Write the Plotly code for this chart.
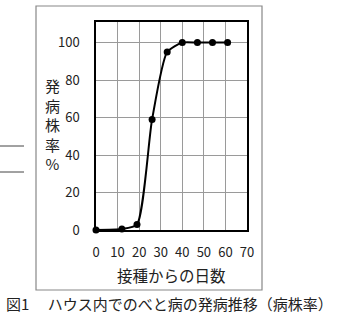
import plotly.graph_objects as go

days = [0, 12, 19, 26, 33, 40, 47, 54, 61]
rate = [0, 0.5, 3, 59, 95, 100, 100, 100, 100]
x_ticks = [0, 10, 20, 30, 40, 50, 60, 70]
y_ticks = [0, 20, 40, 60, 80, 100]
y_title_chars = ["発", "病", "株", "率", "%"]
x_title = "接種からの日数"
caption = "図1　 ハウス内でのべと病の発病推移（病株率）"

FONT = "Noto Sans CJK JP"
W, H = 344, 316
ML, MR, MT, MB = 96, 97, 22, 86
pw, ph = W - ML - MR, H - MT - MB


def px(xp):
    return (xp - ML) / pw


def py(yp):
    return (H - MB - yp) / ph


fig = go.Figure()
fig.add_trace(go.Scatter(
    x=days, y=rate, mode="lines+markers",
    line=dict(color="black", width=2, shape="spline", smoothing=0.6),
    marker=dict(color="black", size=7),
    showlegend=False, cliponaxis=False,
))

fig.update_layout(
    width=W, height=H,
    margin=dict(l=ML, r=MR, t=MT, b=MB),
    paper_bgcolor="white", plot_bgcolor="white",
    font=dict(family=FONT, color="#222", size=12),
    xaxis=dict(range=[0, 70], tickvals=x_ticks, showgrid=True, gridcolor="#9a9a9a",
               gridwidth=1, zeroline=False, showline=True, linecolor="black", linewidth=1.5,
               mirror=True, ticks="", ticklabelstandoff=10, tickfont=dict(size=13)),
    yaxis=dict(range=[0, 111], tickvals=y_ticks, showgrid=True, gridcolor="#9a9a9a",
               gridwidth=1, zeroline=False, showline=True, linecolor="black", linewidth=1.5,
               mirror=True, ticks="", ticklabelstandoff=12, tickfont=dict(size=13)),
)

fig.add_annotation(
    x=px(52), y=py(124), xref="paper", yref="paper", xanchor="center", yanchor="middle",
    text="<br>".join(y_title_chars), showarrow=False,
    font=dict(family=FONT, size=15, color="#222"),
)
fig.add_annotation(
    x=px(171.5), y=py(275), xref="paper", yref="paper", xanchor="center", yanchor="middle",
    text=x_title, showarrow=False, font=dict(family=FONT, size=15.5, color="#222"),
)
fig.add_annotation(
    x=px(4), y=py(303), xref="paper", yref="paper", xanchor="left", yanchor="middle",
    text=caption, showarrow=False, font=dict(family=FONT, size=15, color="#222"),
)

fig.add_shape(type="rect", xref="paper", yref="paper",
              x0=px(36), x1=px(262), y0=py(290), y1=py(6),
              line=dict(color="#888", width=1.2), layer="below")
for yy in (146, 172):
    fig.add_shape(type="line", xref="paper", yref="paper",
                  x0=px(0), x1=px(24), y0=py(yy), y1=py(yy),
                  line=dict(color="#444", width=1))

fig.write_html("out.html")
